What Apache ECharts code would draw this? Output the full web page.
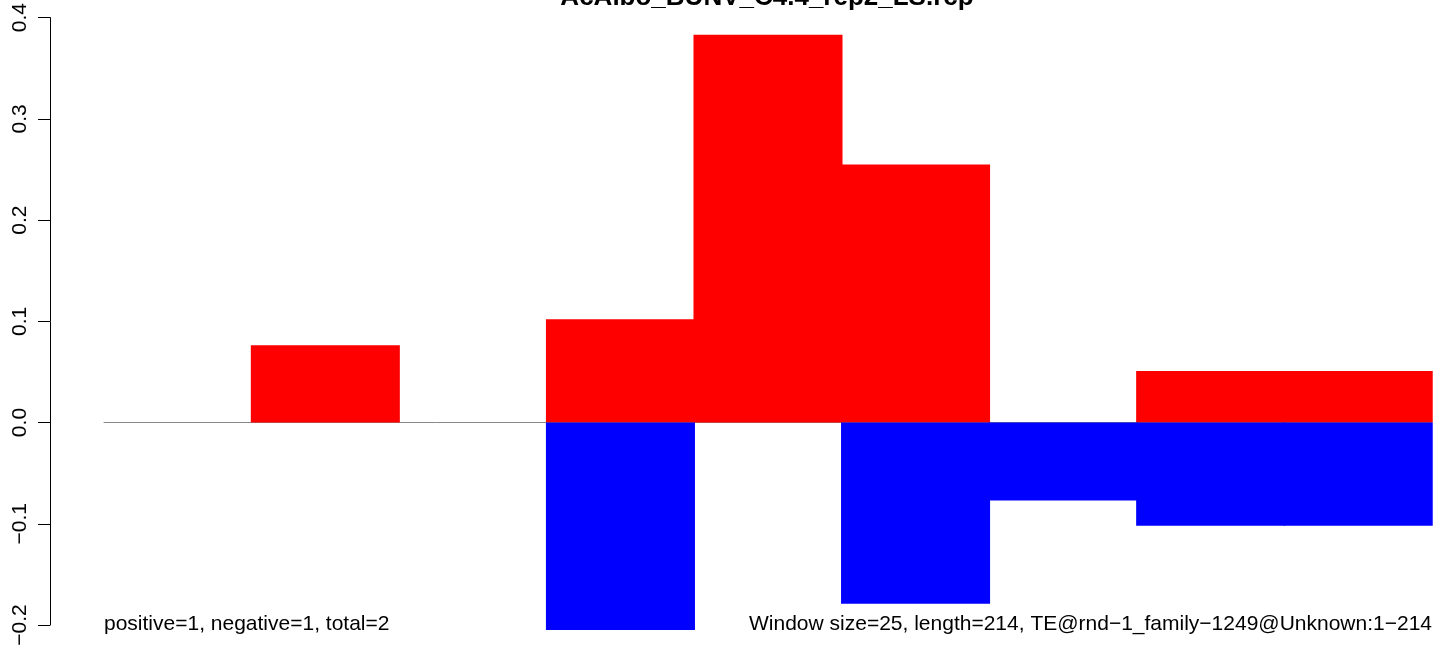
<!DOCTYPE html>
<html>
<head>
<meta charset="utf-8">
<script src="https://cdn.jsdelivr.net/npm/echarts@6/dist/echarts.min.js"></script>
<style>html,body{margin:0;padding:0;background:#fff}#c{width:1444px;height:651px}</style>
</head>
<body>
<div id="c"></div>
<script>
// Data
const titleText = 'AcAlbo_BUNV_C4.4_rep2_LS.rcp';
const bins = ['1', '2', '3', '4', '5', '6', '7', '8', '9'];
const positiveVals = [0, 0.0764, 0, 0.102, 0.383, 0.255, 0, 0.051, 0.051];
const negativeVals = [0, 0, 0, -0.205, 0, -0.179, -0.077, -0.102, -0.102];
const yTicks = [-0.2, -0.1, 0.0, 0.1, 0.2, 0.3, 0.4];
const leftNote = 'positive=1, negative=1, total=2';
const rightNote = 'Window size=25, length=214, TE@rnd\u22121_family\u22121249@Unknown:1\u2212214';

const FONT = '"Liberation Sans", Arial, Helvetica, sans-serif';
const nz = arr => arr.map(v => (v === 0 ? '-' : v));
const chart = echarts.init(document.getElementById('c'), null, {renderer: 'canvas'});
chart.setOption({
  animation: false,
  backgroundColor: '#ffffff',
  grid: {left: 104, right: 12, top: 15, bottom: 26, containLabel: false},
  xAxis: {
    type: 'category',
    data: bins,
    boundaryGap: true,
    axisLine: {show: true, onZero: true, lineStyle: {color: '#888888', width: 1}},
    axisTick: {show: false},
    axisLabel: {show: false},
    splitLine: {show: false}
  },
  yAxis: {
    type: 'value',
    min: yTicks[0],
    max: yTicks[yTicks.length - 1],
    interval: 0.1,
    offset: 54,
    axisLine: {show: true, lineStyle: {color: '#000', width: 1}},
    axisTick: {show: true, length: 12, inside: false, lineStyle: {color: '#000', width: 1}},
    splitLine: {show: false},
    axisLabel: {
      rotate: 90,
      margin: 19,
      align: 'center',
      verticalAlign: 'bottom',
      fontFamily: FONT,
      fontSize: 21,
      color: '#000',
      formatter: v => v.toFixed(1).replace('-', '\u2212')
    }
  },
  series: [
    {
      type: 'bar', data: nz(positiveVals), barWidth: '101%', barGap: '-100%', barCategoryGap: 0,
      itemStyle: {color: '#ff0000'}, clip: false, z: 3
    },
    {
      type: 'bar', data: nz(negativeVals), barWidth: '101%', barGap: '-100%', barCategoryGap: 0,
      itemStyle: {color: '#0000ff'}, clip: false, z: 3
    }
  ],
  graphic: [
    {type: 'text', x: 767, y: 11, z: 10, style: {text: titleText, font: 'bold 26px ' + FONT, fill: '#000', textAlign: 'center', textVerticalAlign: 'bottom'}},
    {type: 'text', x: 104, y: 635, z: 10, style: {text: leftNote, font: '21px ' + FONT, fill: '#000', textAlign: 'left', textVerticalAlign: 'bottom'}},
    {type: 'text', x: 1432, y: 635, z: 10, style: {text: rightNote, font: '21px ' + FONT, fill: '#000', textAlign: 'right', textVerticalAlign: 'bottom'}}
  ]
});
</script>
</body>
</html>
